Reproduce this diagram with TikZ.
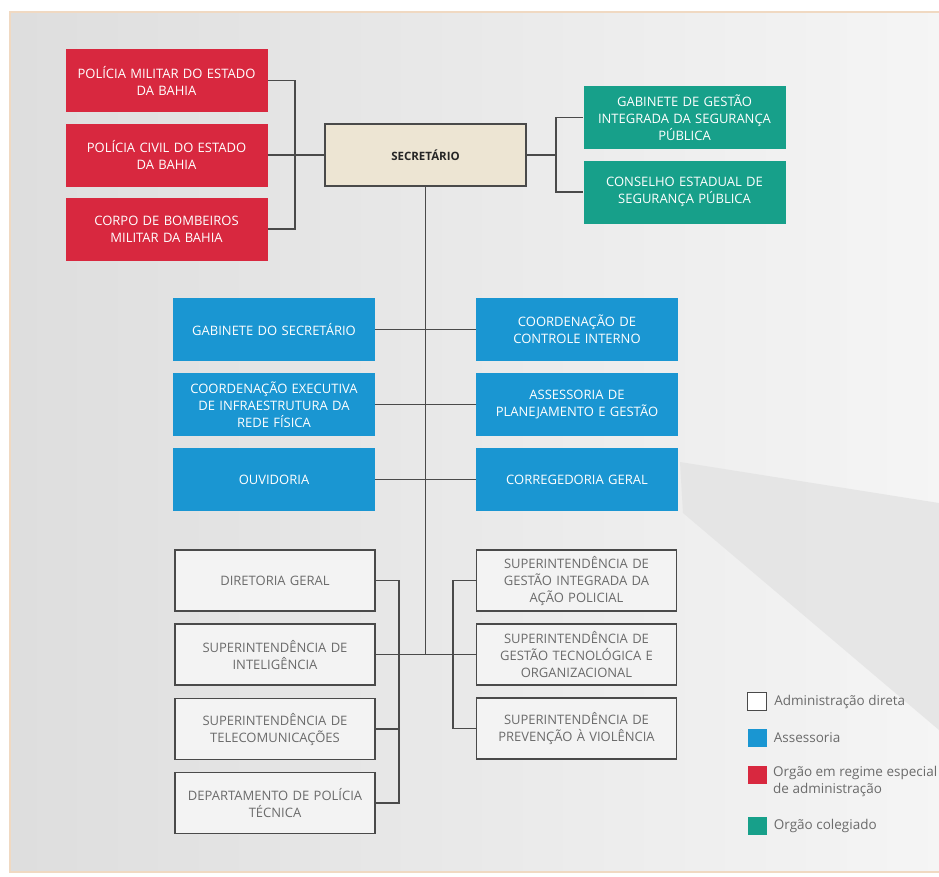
\documentclass[tikz,border=0pt]{standalone}
\usepackage{fontspec}
\setmainfont{Open Sans}
\usetikzlibrary{positioning}
\definecolor{redorg}{HTML}{D8283F}
\definecolor{blueorg}{HTML}{1A96D2}
\definecolor{greenorg}{HTML}{17A08A}
\definecolor{secfill}{HTML}{EDE5D3}
\definecolor{grayfill}{HTML}{F3F3F3}
\definecolor{linegray}{HTML}{4A4A4A}
\definecolor{txtgray}{HTML}{6B6B6B}
\definecolor{framecol}{HTML}{F0D9C2}
\tikzset{x=1pt, y=-1pt,
  box/.style={rectangle, minimum width=202pt, minimum height=63pt, inner sep=0pt, align=center, text width=200pt, font=\fontsize{13}{17}\selectfont},
  redbox/.style={box, fill=redorg, text=white},
  bluebox/.style={box, fill=blueorg, text=white},
  greenbox/.style={box, fill=greenorg, text=white},
  graybox/.style={box, minimum width=200pt, minimum height=61pt, fill=grayfill, draw=linegray, line width=1.3pt, text=txtgray},
  secbox/.style={box, minimum width=201pt, minimum height=62pt, fill=secfill, draw=linegray, line width=1.3pt, font=\bfseries\fontsize{11.5}{14}\selectfont, text=black!85},
  link/.style={draw=linegray, line width=1.3pt},
  legsq/.style={rectangle, minimum width=19pt, minimum height=18pt, inner sep=0pt},
  legtext/.style={anchor=west, inner sep=0pt, align=left, text=txtgray, font=\fontsize{13.5}{17}\selectfont}}

\begin{document}
\begin{tikzpicture}
  \useasboundingbox (0,0) rectangle (939,876);
  \fill[white] (0,0) rectangle (939,876);
  \shade[left color=black!13, right color=black!4] (10,12) rectangle (939,872);
  \fill[black!11, opacity=0.8] (680,462) -- (939,503) -- (939,730) -- (683,513) -- cycle;
  \draw[framecol, line width=2pt] (939,12) -- (10,12) -- (10,872) -- (939,872);

  \node[redbox] (pm) at (166.5,80.5) {POLÍCIA MILITAR DO ESTADO\\DA BAHIA};
  \node[redbox] (pc) at (166.5,155) {POLÍCIA CIVIL DO ESTADO\\DA BAHIA};
  \node[redbox] (cb) at (166.5,229) {CORPO DE BOMBEIROS\\MILITAR DA BAHIA};
  \node[secbox] (sec) at (425.5,155) {SECRETÁRIO};
  \node[greenbox] (ggi) at (684.5,117.5) {GABINETE DE GESTÃO\\INTEGRADA DA SEGURANÇA\\PÚBLICA};
  \node[greenbox] (cons) at (684.5,192) {CONSELHO ESTADUAL DE\\SEGURANÇA PÚBLICA};

  \node[bluebox] (gab) at (274,329.5) {GABINETE DO SECRETÁRIO};
  \node[bluebox] (cei) at (274,404.5) {COORDENAÇÃO EXECUTIVA\\DE INFRAESTRUTURA DA\\REDE FÍSICA};
  \node[bluebox] (ouv) at (274,479.5) {OUVIDORIA};
  \node[bluebox] (cci) at (577,329.5) {COORDENAÇÃO DE\\CONTROLE INTERNO};
  \node[bluebox] (apg) at (577,404.5) {ASSESSORIA DE\\PLANEJAMENTO E GESTÃO};
  \node[bluebox] (cor) at (577,479.5) {CORREGEDORIA GERAL};

  \node[graybox] (dg) at (275,580.5) {DIRETORIA GERAL};
  \node[graybox] (si) at (275,654.5) {SUPERINTENDÊNCIA DE\\INTELIGÊNCIA};
  \node[graybox] (st) at (275,729) {SUPERINTENDÊNCIA DE\\TELECOMUNICAÇÕES};
  \node[graybox] (dpt) at (275,803) {DEPARTAMENTO DE POLÍCIA\\TÉCNICA};
  \node[graybox] (sgi) at (576.5,580.5) {SUPERINTENDÊNCIA DE\\GESTÃO INTEGRADA DA\\AÇÃO POLICIAL};
  \node[graybox] (sgt) at (576.5,654.5) {SUPERINTENDÊNCIA DE\\GESTÃO TECNOLÓGICA E\\ORGANIZACIONAL};
  \node[graybox] (spv) at (576.5,728.5) {SUPERINTENDÊNCIA DE\\PREVENÇÃO À VIOLÊNCIA};

  \coordinate (rbus) at (295,155);
  \coordinate (gbus) at (556,155);
  \coordinate (hub) at (425.5,654.5);
  \coordinate (lbus) at (399,654.5);
  \coordinate (sbus) at (453,654.5);

  \draw[link] (pm.east) -| (rbus) |- (cb.east);
  \draw[link] (pc.east) -- (sec.west);
  \draw[link] (sec.east) -- (gbus);
  \draw[link] (ggi.west) -| (gbus) |- (cons.west);
  \draw[link] (sec.south) -- (hub);
  \draw[link] (gab.east) -- (cci.west);
  \draw[link] (cei.east) -- (apg.west);
  \draw[link] (ouv.east) -- (cor.west);
  \draw[link] (dg.east) -| (lbus) |- (dpt.east);
  \draw[link] (st.east) -- (st.east -| lbus);
  \draw[link] (si.east) -- (sgt.west);
  \draw[link] (sgi.west) -| (sbus) |- (spv.west);

  \node[legsq, fill=white, draw=linegray, line width=1.2pt] (lad) at (757,701.5) {};
  \node[legsq, fill=blueorg] (las) at (757,738) {};
  \node[legsq, fill=redorg] (lre) at (757,775) {};
  \node[legsq, fill=greenorg] (lco) at (757,825.5) {};
  \node[legtext, right=7pt of lad] {Administração direta};
  \node[legtext, right=7pt of las] {Assessoria};
  \node[legtext, anchor=north west] at (773,766) {Orgão em regime especial\\de administração};
  \node[legtext, right=7pt of lco] {Orgão colegiado};
\end{tikzpicture}
\end{document}
